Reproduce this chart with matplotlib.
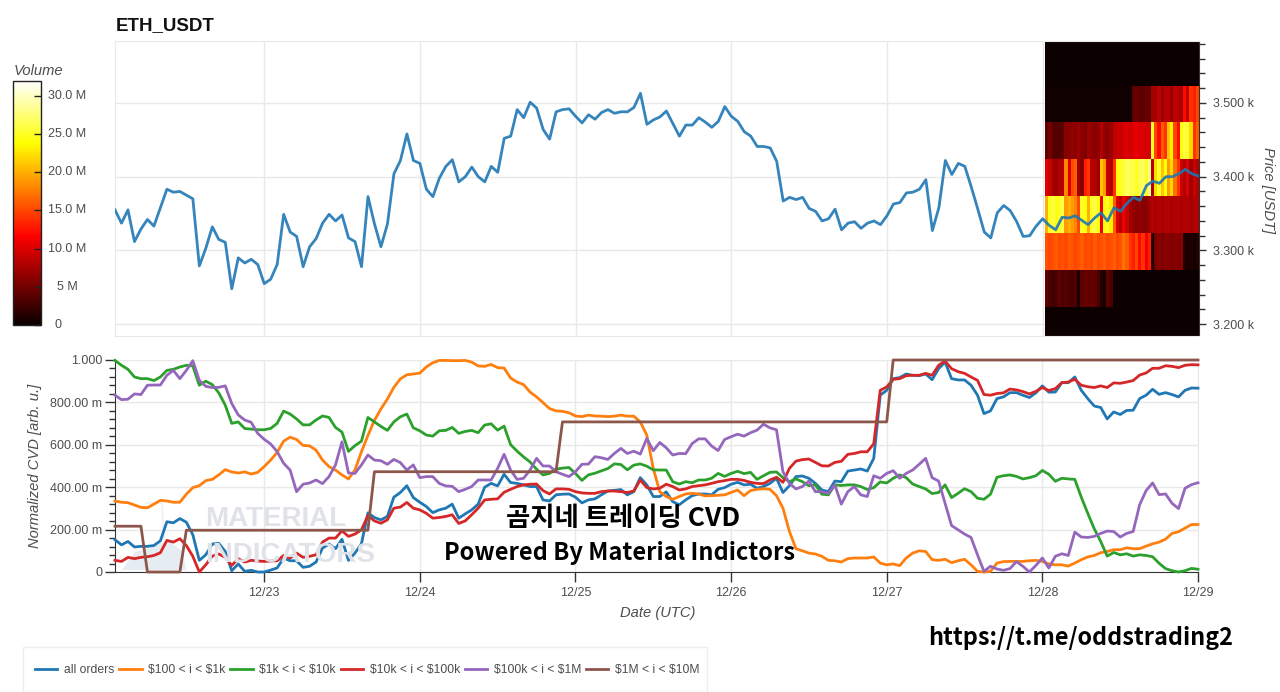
#! /usr/bin python3

import matplotlib
matplotlib.use('Agg')
import matplotlib.dates as mdates
import matplotlib.pyplot as plt
from matplotlib.lines import Line2D
from matplotlib.patches import Polygon, Rectangle
from matplotlib.ticker import MultipleLocator
import numpy as np
import pandas as pd

W, H = 1280, 692

# hourly samples
times = pd.date_range('2024-12-22 01:00', periods=168, freq='h')

price = [3355, 3337, 3355, 3312, 3329, 3342, 3333, 3358, 3383, 3379, 3380, 3375, 3370, 3279, 3303, 3332,
         3315, 3311, 3248, 3290, 3283, 3288, 3281, 3255, 3261, 3281, 3349, 3325, 3319, 3278, 3305, 3316,
         3337, 3349, 3340, 3348, 3317, 3312, 3278, 3373, 3336, 3305, 3336, 3404, 3422, 3458, 3422, 3418,
         3383, 3373, 3398, 3414, 3423, 3393, 3400, 3413, 3400, 3393, 3414, 3406, 3452, 3455, 3491, 3480,
         3501, 3493, 3464, 3451, 3488, 3491, 3492, 3482, 3473, 3484, 3478, 3487, 3491, 3486, 3488, 3488,
         3494, 3513, 3471, 3477, 3481, 3489, 3472, 3455, 3470, 3470, 3480, 3474, 3467, 3475, 3495, 3482,
         3475, 3461, 3455, 3441, 3441, 3439, 3421, 3367, 3372, 3369, 3372, 3357, 3353, 3340, 3343, 3356,
         3328, 3337, 3339, 3330, 3337, 3340, 3335, 3347, 3363, 3365, 3378, 3379, 3383, 3396, 3327, 3358,
         3422, 3403, 3418, 3414, 3386, 3356, 3325, 3317, 3351, 3361, 3354, 3339, 3319, 3320, 3333, 3343,
         3334, 3328, 3345, 3344, 3347, 3341, 3335, 3344, 3351, 3340, 3358, 3353, 3364, 3372, 3368, 3388,
         3394, 3391, 3400, 3400, 3404, 3410, 3404, 3401]

# normalized cvd, in milli units
all_orders = [152, 128, 144, 118, 121, 121, 125, 147, 237, 232, 252, 235, 176, 55, 81, 132,
              135, 97, 6, 38, 3, 8, 0, 0, 9, 19, 66, 53, 53, 22, 27, 47,
              113, 132, 110, 154, 55, 89, 133, 279, 257, 246, 262, 353, 375, 407, 351, 329,
              309, 280, 293, 301, 320, 254, 274, 293, 320, 400, 418, 406, 461, 422, 418, 411,
              403, 403, 340, 335, 364, 367, 368, 353, 326, 340, 345, 364, 382, 385, 389, 364,
              379, 445, 411, 356, 356, 378, 332, 317, 340, 360, 368, 368, 364, 390, 398, 414,
              423, 411, 414, 395, 403, 418, 442, 375, 407, 450, 453, 442, 418, 387, 379, 429,
              426, 476, 481, 486, 476, 536, 834, 857, 912, 917, 934, 928, 926, 934, 907, 959,
              990, 912, 906, 906, 881, 834, 747, 760, 818, 826, 846, 846, 834, 823, 845, 878,
              848, 849, 893, 893, 920, 857, 818, 783, 776, 722, 755, 743, 762, 763, 818, 834,
              862, 838, 846, 837, 826, 857, 868, 867]
usd_100_1k = [335, 329, 327, 316, 305, 303, 320, 338, 335, 329, 329, 367, 398, 407, 431, 437,
              458, 483, 472, 467, 472, 462, 470, 497, 528, 564, 617, 636, 625, 597, 595, 575,
              528, 497, 481, 458, 439, 481, 567, 644, 715, 769, 816, 871, 911, 930, 934, 938,
              967, 987, 998, 998, 997, 997, 998, 990, 972, 970, 979, 964, 962, 915, 896, 884,
              849, 826, 799, 771, 760, 758, 751, 736, 733, 740, 736, 735, 733, 735, 740, 735,
              735, 708, 646, 489, 379, 356, 343, 356, 368, 371, 368, 359, 360, 362, 364, 375,
              387, 360, 384, 390, 393, 390, 360, 301, 191, 110, 100, 89, 85, 74, 55, 53,
              47, 63, 66, 66, 66, 71, 42, 34, 38, 30, 66, 89, 100, 97, 58, 55,
              60, 44, 53, 60, 34, 3, 0, 3, 42, 49, 50, 50, 50, 53, 55, 50,
              38, 34, 34, 28, 42, 58, 71, 78, 91, 97, 105, 105, 114, 110, 110, 122,
              133, 141, 155, 182, 190, 207, 224, 224]
usd_1k_10k = [998, 975, 956, 920, 912, 912, 903, 920, 951, 956, 967, 975, 972, 881, 900, 884,
              845, 787, 701, 708, 677, 674, 671, 671, 677, 701, 759, 745, 722, 694, 694, 717,
              736, 729, 682, 660, 569, 596, 617, 729, 708, 687, 668, 708, 732, 745, 680, 666,
              646, 641, 666, 668, 682, 654, 663, 668, 657, 693, 699, 669, 688, 601, 570, 543,
              519, 485, 458, 465, 485, 490, 493, 465, 432, 458, 466, 477, 488, 510, 507, 482,
              504, 510, 499, 482, 481, 481, 426, 415, 426, 421, 434, 434, 442, 465, 451, 465,
              475, 464, 470, 437, 454, 470, 472, 445, 426, 439, 426, 407, 411, 367, 364, 411,
              408, 411, 411, 403, 389, 398, 425, 420, 442, 458, 445, 415, 403, 392, 370, 375,
              411, 351, 371, 393, 379, 348, 343, 367, 447, 454, 458, 451, 439, 445, 454, 479,
              461, 428, 442, 439, 437, 353, 277, 204, 144, 75, 92, 81, 86, 75, 81, 78,
              72, 41, 16, 6, 0, 6, 17, 13]
usd_10k_100k = [55, 50, 69, 63, 69, 72, 78, 91, 149, 141, 157, 125, 74, 0, 34, 75,
                85, 69, 31, 63, 47, 55, 52, 50, 52, 53, 78, 66, 89, 69, 74, 81,
                141, 160, 160, 194, 168, 179, 199, 266, 241, 230, 246, 301, 306, 328, 301, 293,
                277, 254, 257, 262, 270, 229, 241, 270, 301, 340, 343, 345, 376, 390, 403, 411,
                414, 415, 384, 368, 392, 392, 390, 379, 373, 371, 371, 379, 382, 382, 379, 375,
                382, 434, 398, 392, 395, 414, 403, 387, 392, 403, 407, 411, 418, 426, 431, 437,
                437, 432, 423, 418, 417, 434, 447, 423, 489, 523, 530, 533, 517, 501, 500, 517,
                522, 555, 559, 567, 567, 605, 857, 873, 909, 912, 926, 928, 928, 937, 928, 975,
                995, 959, 945, 937, 920, 904, 837, 834, 842, 845, 863, 859, 851, 840, 852, 870,
                856, 865, 893, 896, 909, 881, 874, 870, 878, 870, 892, 890, 896, 903, 929, 939,
                961, 961, 973, 970, 964, 975, 978, 977]
usd_100k_1m = [834, 813, 815, 840, 837, 881, 882, 882, 928, 951, 912, 951, 997, 904, 876, 870,
               871, 878, 795, 741, 717, 706, 654, 626, 604, 568, 513, 481, 379, 414, 420, 434,
               417, 450, 505, 614, 467, 465, 505, 552, 528, 525, 508, 531, 516, 481, 505, 445,
               450, 450, 418, 406, 404, 379, 390, 403, 434, 434, 434, 489, 555, 481, 437, 442,
               481, 536, 500, 500, 473, 461, 450, 473, 508, 509, 544, 539, 531, 559, 583, 559,
               570, 556, 630, 572, 611, 586, 552, 559, 558, 606, 628, 628, 594, 573, 625, 638,
               650, 641, 657, 669, 697, 680, 671, 473, 418, 392, 403, 429, 379, 379, 371, 411,
               320, 379, 403, 364, 356, 454, 442, 465, 478, 442, 465, 481, 508, 536, 445, 429,
               324, 219, 199, 179, 163, 81, 3, 27, 14, 8, 16, 49, 27, 0, 31, 66,
               19, 74, 86, 78, 188, 165, 163, 168, 182, 193, 191, 165, 182, 191, 317, 384,
               420, 365, 368, 324, 299, 395, 412, 421]
usd_1m_10m = [216] * 5 + [0] * 6 + [197] * 29 + [473] * 29 + [708] * 51 + [1000] * 48

series_names = ['all orders', r'\$100 < i < \$1k', r'\$1k < i < \$10k', r'\$10k < i < \$100k',
                r'\$100k < i < \$1M', r'\$1M < i < \$10M']
series_colors = ['#1f77b4', '#ff7f0e', '#2ca02c', '#d62728', '#9467bd', '#8c564b']
series_values = [all_orders, usd_100_1k, usd_1k_10k, usd_10k_100k, usd_100k_1m, usd_1m_10m]

# volume profile, rows from low price to high price, millions
band_edges = [3184, 3223.6, 3273.5, 3323.6, 3373.8, 3424, 3473.7, 3523.5, 3584]
band_0 = [0.2] * 48
band_1 = [4, 3, 2.5, 3, 4, 3, 3.5, 3, 3, 3.5, 0.5, 4, 4.5, 4, 4.5, 4, 3, 1, 0.5, 4, 3] + [0.2] * 27
band_2 = [15.5, 15, 15.5, 16, 15, 15.5, 15, 16, 15.5, 15, 15.5, 16, 15, 15.5, 15, 16, 15, 15.5, 16, 15, 15.5, 16, 15, 15.5,
          17, 16, 14, 13, 15, 12, 14, 11, 13, 1, 5, 6, 5.5, 6, 6, 5.5, 6, 5.5, 6, 1, 0.5, 1, 0.5, 1]
band_3 = [20, 25, 26, 24, 25, 26, 19, 20, 19, 18, 15, 25, 24, 20, 25, 26, 24, 11, 24, 25, 23, 16, 10, 8,
          11, 9, 7, 6.5, 6, 6.5, 6, 6, 7, 8, 7.5, 8, 7.5, 8, 8, 7.5, 8, 8, 7.5, 8, 8, 7.5, 8, 8]
band_4 = [10, 9, 7, 7, 8, 8, 18, 10, 15, 16, 7, 6, 13, 14, 8, 8, 7, 21, 19, 9, 8, 14, 24, 25,
          25, 27, 26, 26, 25, 26, 27, 25, 28, 8, 22, 25, 21, 24, 19, 22, 17, 14, 9, 8, 10, 7, 9, 8]
band_5 = [4, 5, 3.5, 3.5, 3.5, 4, 6, 6, 6.5, 6, 7, 6, 5.5, 7, 6.5, 6, 6.5, 8, 6.5, 6, 7, 8.5, 9, 9,
          9.5, 10, 9.5, 10, 10.5, 10, 10, 9.5, 9.5, 25, 15, 12, 16, 14, 21, 23, 15, 12, 24, 26, 25, 22, 14, 16]
band_6 = [0.3] * 27 + [4, 4.5, 4, 4, 4.5, 4, 7.5, 7, 8.5, 7, 8, 8, 7, 8.5, 8, 7.5, 12, 9, 14, 13, 15]
band_7 = [0.2] * 48
volume_bands = [band_0, band_1, band_2, band_3, band_4, band_5, band_6, band_7]

price_ticks = [3200, 3300, 3400, 3500]
price_labels = ['3.200 k', '3.300 k', '3.400 k', '3.500 k']
cvd_ticks = [0, 200, 400, 600, 800, 1000]
cvd_labels = ['0', '200.00 m', '400.00 m', '600.00 m', '800.00 m', '1.000']
vol_ticks = [0, 5, 10, 15, 20, 25, 30]
vol_labels = ['0', '5 M', '10.0 M', '15.0 M', '20.0 M', '25.0 M', '30.0 M']
day_ticks = pd.date_range('2024-12-23', '2024-12-29', freq='D')

plt.rcParams['font.family'] = ['Liberation Sans', 'DejaVu Sans']
TXT = '#4d4d4d'
GRID = '#e9e9e9'
DARK = '#333333'


def rect(left, top, width, height):
    return [left / W, 1 - (top + height) / H, width / W, height / H]


def fx(x):
    return x / W


def fy(y):
    return 1 - y / H


fig = plt.figure(figsize=(W / 100, H / 100), dpi=100)

# price panel
ax = fig.add_axes(rect(115, 41, 1084, 295))
heat_x = pd.date_range('2024-12-28 00:24', '2024-12-29 00:06', periods=49)
mesh = ax.pcolormesh(mdates.date2num(heat_x), band_edges, np.array(volume_bands),
                     cmap='hot', vmin=0, vmax=31.9, zorder=2)
ax.plot(times, price, color='#1f77b4', lw=2, alpha=0.9, zorder=3, solid_joinstyle='round')
ax.set_ylim(3184, 3584)
ax.set_xlim(times[0], pd.Timestamp('2024-12-29 00:06'))
ax.set_xticks(day_ticks)
ax.tick_params(axis='x', length=0, labelbottom=False)
ax.yaxis.tick_right()
ax.set_yticks(price_ticks)
ax.set_yticklabels(price_labels)
ax.yaxis.set_minor_locator(MultipleLocator(20))
ax.tick_params(axis='y', which='major', length=5, width=1, color=DARK, labelcolor=TXT,
               labelsize=9, pad=5)
ax.tick_params(axis='y', which='minor', length=4, width=1, color=DARK)
ax.grid(True, color=GRID, lw=1, zorder=0)
ax.set_axisbelow(True)
for side in ['left', 'top', 'bottom']:
    ax.spines[side].set_color(GRID)
ax.spines['right'].set_color(DARK)

# cvd panel
ax2 = fig.add_axes(rect(115, 360, 1083, 212))
for name, color, values in zip(series_names, series_colors, series_values):
    ax2.plot(times, values, color=color, lw=2, label=name, zorder=3, clip_on=False,
             solid_joinstyle='round')
ax2.set_ylim(0, 1000)
ax2.set_xlim(times[0], times[-1])
ax2.set_xticks(day_ticks)
ax2.xaxis.set_major_formatter(mdates.DateFormatter('%m/%d'))
ax2.set_yticks(cvd_ticks)
ax2.set_yticklabels(cvd_labels)
ax2.yaxis.set_minor_locator(MultipleLocator(40))
ax2.tick_params(axis='x', which='major', length=7, width=1, color=DARK, labelcolor=TXT,
                labelsize=9, pad=4)
ax2.tick_params(axis='y', which='major', length=7, width=1, color=DARK, labelcolor=TXT,
                labelsize=9, pad=2)
ax2.tick_params(axis='y', which='minor', length=4, width=1, color=DARK)
ax2.grid(True, color=GRID, lw=1, zorder=0)
ax2.set_axisbelow(True)
ax2.spines['top'].set_color(GRID)
ax2.spines['right'].set_color(GRID)
ax2.spines['left'].set_color(DARK)
ax2.spines['bottom'].set_color(DARK)

# watermark
fig.text(fx(205), fy(519), 'MATERIAL', color='#dfe2e6', fontsize=20, fontweight='bold',
         va='center', ha='left', zorder=0.5)
fig.text(fx(205), fy(555), 'INDICATORS', color='#dfe2e6', fontsize=20, fontweight='bold',
         va='center', ha='left', zorder=0.5)
ax2.patch.set_alpha(0)
ax2.add_patch(Polygon([[fx(122), fy(570)], [fx(135), fy(552)], [fx(150), fy(548)], [fx(168), fy(540)],
                       [fx(183), fy(552)], [fx(186), fy(570)]],
                      closed=True, transform=fig.transFigure, facecolor='#e6edf2', edgecolor='none', zorder=1))
ax2.add_patch(Polygon([[fx(145), fy(503)], [fx(162), fy(503)], [fx(164), fy(540)]],
                      closed=False, fill=False, transform=fig.transFigure, edgecolor='#eeeeee', lw=1, zorder=1))

# colorbar
cax = fig.add_axes(rect(13, 81, 28, 244))
cbar = fig.colorbar(mesh, cax=cax)
cbar.outline.set_edgecolor('#222222')
cbar.outline.set_linewidth(1)
cax.set_yticks(vol_ticks)
cax.set_yticklabels([])
cax.tick_params(axis='y', direction='in', length=5, width=1, color='#222222')
for val, lab in zip(vol_ticks, vol_labels):
    lx = 58 if lab == '0' else 67
    cax.text((lx - 13) / 28, val, lab, transform=cax.get_yaxis_transform(), color=TXT,
             fontsize=9, ha='center', va='center')

fig.text(fx(14), fy(71), 'Volume', color=TXT, fontsize=10.6, style='italic', ha='left', va='center')
fig.text(fx(116), fy(26), 'ETH_USDT', color='#111111', fontsize=13.5, fontweight='bold', ha='left', va='center')
fig.text(fx(1268), fy(190), 'Price [USDT]', color=TXT, fontsize=10.6, style='italic', rotation=-90,
         ha='center', va='center')
fig.text(fx(35), fy(466), 'Normalized CVD [arb. u.]', color=TXT, fontsize=10.6, style='italic', rotation=90,
         ha='center', va='center')
fig.text(fx(658), fy(613), 'Date (UTC)', color=TXT, fontsize=10.6, style='italic', ha='center', va='center')

# overlaid captions
cjk = ['Noto Sans CJK KR', 'DejaVu Sans']
fig.text(fx(623), fy(518), '곰지네 트레이딩 CVD', family=cjk, fontsize=19, fontweight='bold',
         color='black', ha='center', va='center', zorder=5)
fig.text(fx(620), fy(553), 'Powered By Material Indictors', family=cjk, fontsize=17, fontweight='bold',
         color='black', ha='center', va='center', zorder=5)
fig.text(fx(1081), fy(638), 'https://t.me/oddstrading2', family=cjk, fontsize=16.8, fontweight='bold',
         color='black', ha='center', va='center', zorder=5)

# legend
fig.add_artist(Rectangle((fx(23), fy(692)), 684 / W, 45 / H, transform=fig.transFigure,
                         facecolor='white', edgecolor='#eeeeee', lw=1))
handles = [Line2D([], [], color=c, lw=2) for c in series_colors]
fig.legend(handles, series_names, loc='center left', bbox_to_anchor=(fx(35), fy(670)), ncol=6,
           frameon=False, fontsize=8.7, labelcolor=TXT, handlelength=1.85, handletextpad=0.55,
           columnspacing=0.4, borderpad=0, borderaxespad=0)

plt.savefig('out.png', dpi=100)
print("Saved to out.png")
